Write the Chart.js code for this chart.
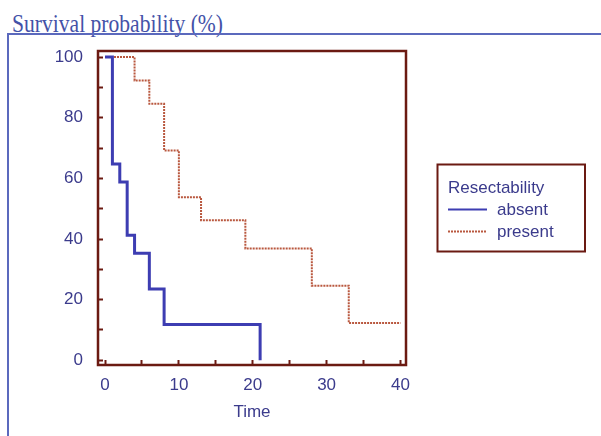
<!DOCTYPE html>
<html>
<head>
<meta charset="utf-8">
<script src="https://cdn.jsdelivr.net/npm/chart.js@4.4.1/dist/chart.umd.min.js"></script>
<style>
  html, body { margin: 0; padding: 0; background: #ffffff; }
  #wrap { position: relative; width: 601px; height: 436px; overflow: hidden; background: #fff; }
  #frameTop { position: absolute; left: 7px; top: 33px; width: 600px; height: 0; border-top: 2px solid #5b69bd; }
  #frameLeft { position: absolute; left: 7px; top: 33px; width: 0; height: 420px; border-left: 2px solid #5b69bd; }
  #title { position: absolute; left: 12px; top: 11px; font-family: "Liberation Serif", serif; font-size: 26px; line-height: 26px;
           color: #4452a8; white-space: nowrap; transform-origin: 0 0; }
  #box { position: absolute; left: 0; top: 0; width: 601px; height: 436px; }
</style>
</head>
<body>
<div id="wrap">
  <div id="title">Survival probability (%)</div>
  <div id="frameTop"></div>
  <div id="frameLeft"></div>
  <div id="box"><canvas id="c"></canvas></div>
</div>
<script>
// ---- data ----
const legendTitle = "Resectability";
const seriesLabels = ["absent", "present"];
const absentTime = [0, 1, 2, 3, 4, 6, 8, 21];
const absentSurv = [100, 64.7, 58.8, 41.2, 35.3, 23.5, 11.8, 0];
const presentTime = [0, 4, 6, 8, 10, 13, 19, 28, 33, 40];
const presentSurv = [100, 92.3, 84.6, 69.2, 53.8, 46.2, 36.9, 24.6, 12.3, 12.3];
const xLabelTicks = [0, 10, 20, 30, 40];
const yLabelTicks = [0, 20, 40, 60, 80, 100];
const xAxisTitle = "Time";

// ---- styles ----
const FRAME = "#6b1a12";
const TEXT = "#3b3b8c";
const BLUE = "#3d3db2";
const RED = "#b9583f";
const FONT = '"Liberation Sans", Arial, sans-serif';

// fit title width like the reference
(function () {
  const t = document.getElementById('title');
  const w = t.getBoundingClientRect().width;
  t.style.transform = 'scaleX(' + (211 / w) + ')';
})();

const toPts = (xs, ys) => xs.map((x, i) => ({ x: x, y: ys[i] }));

const framePlugin = {
  id: 'frame',
  afterDatasetsDraw(chart) {
    const { ctx, chartArea: a } = chart;
    ctx.save();
    ctx.strokeStyle = FRAME;
    ctx.lineWidth = 2.5;
    ctx.strokeRect(a.left, a.top, a.right - a.left, a.bottom - a.top);
    ctx.restore();
  }
};

const legendPlugin = {
  id: 'kmLegend',
  afterDraw(chart) {
    const ctx = chart.ctx;
    ctx.save();
    ctx.strokeStyle = FRAME;
    ctx.lineWidth = 2;
    ctx.strokeRect(437.5, 164.5, 147.5, 87);
    ctx.font = '17px ' + FONT;
    ctx.fillStyle = TEXT;
    ctx.textBaseline = 'middle';
    ctx.textAlign = 'left';
    ctx.fillText(legendTitle, 448, 188);
    chart.data.datasets.forEach((ds, i) => {
      const y = 209.5 + i * 22;
      ctx.beginPath();
      ctx.strokeStyle = ds.borderColor;
      ctx.lineWidth = 2;
      ctx.setLineDash(ds.borderDash || []);
      ctx.moveTo(448, y);
      ctx.lineTo(487, y);
      ctx.stroke();
      ctx.setLineDash([]);
      ctx.fillText(ds.label, 497, y + 1);
    });
    ctx.restore();
  }
};

new Chart(document.getElementById('c'), {
  type: 'line',
  data: {
    datasets: [
      {
        label: seriesLabels[0],
        data: toPts(absentTime, absentSurv),
        borderColor: BLUE,
        borderWidth: 3,
        stepped: 'before',
        pointRadius: 0,
        fill: false
      },
      {
        label: seriesLabels[1],
        data: toPts(presentTime, presentSurv),
        borderColor: RED,
        borderWidth: 2,
        borderDash: [2, 1],
        stepped: 'before',
        pointRadius: 0,
        fill: false
      }
    ]
  },
  options: {
    responsive: true,
    maintainAspectRatio: false,
    animation: false,
    layout: { padding: { left: 0, right: 195, top: 51, bottom: 0 } },
    plugins: {
      legend: { display: false },
      title: { display: false },
      tooltip: { enabled: false }
    },
    scales: {
      x: {
        type: 'linear',
        min: -0.95,
        max: 40.75,
        afterFit: (s) => { s.height = 71; },
        border: { display: false },
        grid: { display: true, drawOnChartArea: false, drawTicks: true, tickLength: -5, tickColor: FRAME, tickWidth: 2 },
        ticks: {
          stepSize: 5,
          includeBounds: false,
          padding: 15,
          color: TEXT,
          font: { family: FONT, size: 17 },
          maxRotation: 0,
          autoSkip: false,
          callback: (v) => xLabelTicks.includes(v) ? String(v) : ''
        },
        title: { display: true, text: xAxisTitle, color: TEXT, font: { family: FONT, size: 17 }, padding: { top: 0, bottom: 13 } }
      },
      y: {
        type: 'linear',
        min: -1.55,
        max: 102,
        afterFit: (s) => { s.width = 98; },
        border: { display: false },
        grid: { display: true, drawOnChartArea: false, drawTicks: true, tickLength: -5, tickColor: FRAME, tickWidth: 2 },
        ticks: {
          stepSize: 10,
          includeBounds: false,
          padding: 20,
          color: TEXT,
          font: { family: FONT, size: 17 },
          autoSkip: false,
          callback: (v) => yLabelTicks.includes(v) ? String(v) : ''
        }
      }
    }
  },
  plugins: [framePlugin, legendPlugin]
});
</script>
</body>
</html>
